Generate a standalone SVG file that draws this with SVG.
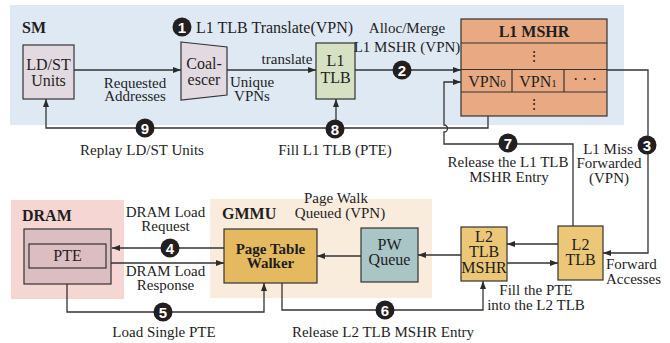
<svg xmlns="http://www.w3.org/2000/svg" width="670" height="343" viewBox="0 0 670 343">
  <defs>
    <marker id="arrow" viewBox="0 0 8 6" refX="8" refY="3" markerWidth="8" markerHeight="6" markerUnits="userSpaceOnUse" orient="auto">
      <path d="M0,0 L8,3 L0,6 z" fill="#2b2b2b"/>
    </marker>
    <style>
      text { font-family: "Liberation Serif", "Times New Roman", serif; fill: #1e1e1e; }
      .lbl { font-size: 15px; }
      .mid { text-anchor: middle; }
      .box { font-size: 16px; text-anchor: middle; }
      .bold { font-weight: bold; }
      .title { font-size: 16px; font-weight: bold; }
      .blk { stroke: #333; stroke-width: 1.2; }
      .wire { fill: none; stroke: #333; stroke-width: 1.3; }
      .arr { marker-end: url(#arrow); }
      .step circle { fill: #231f20; }
      .step text { font-family: "Liberation Sans", Arial, sans-serif; font-size: 15px; font-weight: bold; fill: #fff; text-anchor: middle; }
    </style>
  </defs>

  <!-- regions -->
  <g id="sm-region">
    <rect x="10" y="5" width="614" height="120" fill="#dfe9f3"/>
    <text class="title" x="22" y="33">SM</text>
  </g>
  <g id="dram-region">
    <rect x="11" y="200" width="113" height="99" fill="#f5d6d3"/>
    <text class="title" x="22" y="221">DRAM</text>
  </g>
  <g id="gmmu-region">
    <rect x="210" y="199" width="222" height="99" fill="#f9ecdc"/>
    <text class="title" x="222" y="219">GMMU</text>
  </g>

  <!-- connectors -->
  <g id="connectors">
    <path class="wire arr" d="M74,70 H181"/>
    <path class="wire arr" d="M227,70 H316"/>
    <path class="wire arr" d="M355,70 H461"/>
    <path class="wire arr" d="M607,70 H648 V253 H603"/>
    <path class="wire arr" d="M558,244 H507"/>
    <path class="wire arr" d="M507,263 H558"/>
    <path class="wire arr" d="M461,255 H418"/>
    <path class="wire arr" d="M361,256 H317"/>
    <path class="wire arr" d="M224,248 H112"/>
    <path class="wire arr" d="M111,263 H224"/>
    <path class="wire arr" d="M67,284 V312 H264 V283"/>
    <path class="wire arr" d="M282,283 V310 H483 V281"/>
    <path class="wire arr" d="M573,226 V144 H444 V132 A3.5,3.5 0 0 0 444,125 V82 H461"/>
    <path class="wire arr" d="M488,116 V128 H46 V99"/>
    <path class="wire arr" d="M336,128 V99"/>
  </g>

  <!-- SM blocks -->
  <g id="ldst-units">
    <rect class="blk" x="23" y="45" width="51" height="54" fill="#e3dae1"/>
    <text class="box" x="48.5" y="70">LD/ST<tspan x="48.5" dy="16">Units</tspan></text>
  </g>
  <g id="coalescer">
    <polygon class="blk" points="181,42 227,47 227,95 181,100" fill="#e3dae1"/>
    <text class="box" x="204" y="69">Coal-<tspan x="204" dy="16">escer</tspan></text>
  </g>
  <g id="l1-tlb">
    <rect class="blk" x="316" y="43" width="39" height="56" fill="#d5e1c2"/>
    <text class="box" x="335.5" y="66">L1<tspan x="335.5" dy="17">TLB</tspan></text>
  </g>
  <g id="l1-mshr">
    <rect class="blk" x="461" y="19" width="146" height="97" fill="#e8a983"/>
    <line class="blk" x1="461" y1="43" x2="607" y2="43"/>
    <line class="blk" x1="461" y1="69.5" x2="607" y2="69.5"/>
    <line class="blk" x1="461" y1="92" x2="607" y2="92"/>
    <line class="blk" x1="512" y1="69.5" x2="512" y2="92"/>
    <line class="blk" x1="564" y1="69.5" x2="564" y2="92"/>
    <text class="box bold" x="534" y="37">L1 MSHR</text>
    <text class="box" x="534" y="61" style="font-family:'DejaVu Serif',serif;font-size:14px">⋮</text>
    <text class="box" x="487" y="87">VPN<tspan font-size="11">0</tspan></text>
    <text class="box" x="538" y="87">VPN<tspan font-size="11">1</tspan></text>
    <text class="box" x="585" y="85">· · ·</text>
    <text class="box" x="534" y="109" style="font-family:'DejaVu Serif',serif;font-size:14px">⋮</text>
  </g>

  <!-- GMMU blocks -->
  <g id="l2-tlb">
    <rect class="blk" x="558" y="226" width="45" height="54" fill="#ebc777"/>
    <text class="box" x="580.5" y="250">L2<tspan x="580.5" dy="15">TLB</tspan></text>
  </g>
  <g id="l2-tlb-mshr">
    <rect class="blk" x="461" y="227" width="46" height="54" fill="#ebc777"/>
    <text class="box" x="484" y="242">L2<tspan x="484" dy="15">TLB</tspan><tspan x="484" dy="16">MSHR</tspan></text>
  </g>
  <g id="pw-queue">
    <rect class="blk" x="361" y="228" width="57" height="54" fill="#a9c5c6"/>
    <text class="box" x="389.5" y="250">PW<tspan x="389.5" dy="15">Queue</tspan></text>
  </g>
  <g id="page-table-walker">
    <rect class="blk" x="224" y="229" width="93" height="54" fill="#e4b960"/>
    <text class="box bold" x="270.5" y="254" style="font-size:15px">Page Table<tspan x="270.5" dy="14">Walker</tspan></text>
  </g>

  <!-- DRAM blocks -->
  <g id="dram">
    <rect class="blk" x="24" y="229" width="87" height="55" fill="#dcbdc1"/>
    <rect class="blk" x="29" y="244" width="77" height="24" fill="#dcbdc1"/>
    <text class="box" x="67.5" y="261">PTE</text>
  </g>

  <!-- labels -->
  <g id="labels">
    <text x="196" y="33" style="font-size:16px">L1 TLB Translate(VPN)</text>
    <text class="lbl mid" x="407" y="33">Alloc/Merge<tspan x="407" dy="19">L1 MSHR (VPN)</tspan></text>
    <text class="lbl mid" x="287" y="64">translate</text>
    <text class="lbl mid" x="135" y="88">Requested<tspan x="135" dy="13">Addresses</tspan></text>
    <text class="lbl mid" x="252" y="87">Unique<tspan x="252" dy="14">VPNs</tspan></text>
    <text class="lbl mid" x="142" y="155">Replay LD/ST Units</text>
    <text class="lbl mid" x="335" y="155">Fill L1 TLB (PTE)</text>
    <text class="lbl mid" x="508" y="167">Release the L1 TLB<tspan x="509" dy="15">MSHR Entry</tspan></text>
    <text class="lbl mid" x="608" y="154">L1 Miss<tspan x="609" dy="14">Forwarded</tspan><tspan x="609" dy="15">(VPN)</tspan></text>
    <text class="lbl" x="606" y="269">Forward<tspan x="606" dy="15">Accesses</tspan></text>
    <text class="lbl mid" x="536" y="295">Fill the PTE<tspan x="536" dy="15">into the L2 TLB</tspan></text>
    <text class="lbl mid" x="336" y="203">Page Walk<tspan x="340" dy="15">Queued (VPN)</tspan></text>
    <text class="lbl mid" x="165.5" y="217">DRAM Load<tspan x="165.5" dy="14">Request</tspan></text>
    <text class="lbl mid" x="165.5" y="276">DRAM Load<tspan x="165.5" dy="14">Response</tspan></text>
    <text class="lbl mid" x="164" y="337">Load Single PTE</text>
    <text class="lbl mid" x="383" y="337">Release L2 TLB MSHR Entry</text>
  </g>

  <!-- step markers -->
  <g id="steps">
    <g class="step"><circle cx="182" cy="27" r="9.5"/><text x="182" y="32.5">1</text></g>
    <g class="step"><circle cx="402" cy="70" r="9.5"/><text x="402" y="75.5">2</text></g>
    <g class="step"><circle cx="647" cy="145" r="9.5"/><text x="647" y="150.5">3</text></g>
    <g class="step"><circle cx="170" cy="248" r="9.5"/><text x="170" y="253.5">4</text></g>
    <g class="step"><circle cx="163" cy="312" r="9.5"/><text x="163" y="317.5">5</text></g>
    <g class="step"><circle cx="385" cy="310" r="9.5"/><text x="385" y="315.5">6</text></g>
    <g class="step"><circle cx="508" cy="143" r="9.5"/><text x="508" y="148.5">7</text></g>
    <g class="step"><circle cx="335" cy="129" r="9.5"/><text x="335" y="134.5">8</text></g>
    <g class="step"><circle cx="145" cy="128" r="9.5"/><text x="145" y="133.5">9</text></g>
  </g>
</svg>
